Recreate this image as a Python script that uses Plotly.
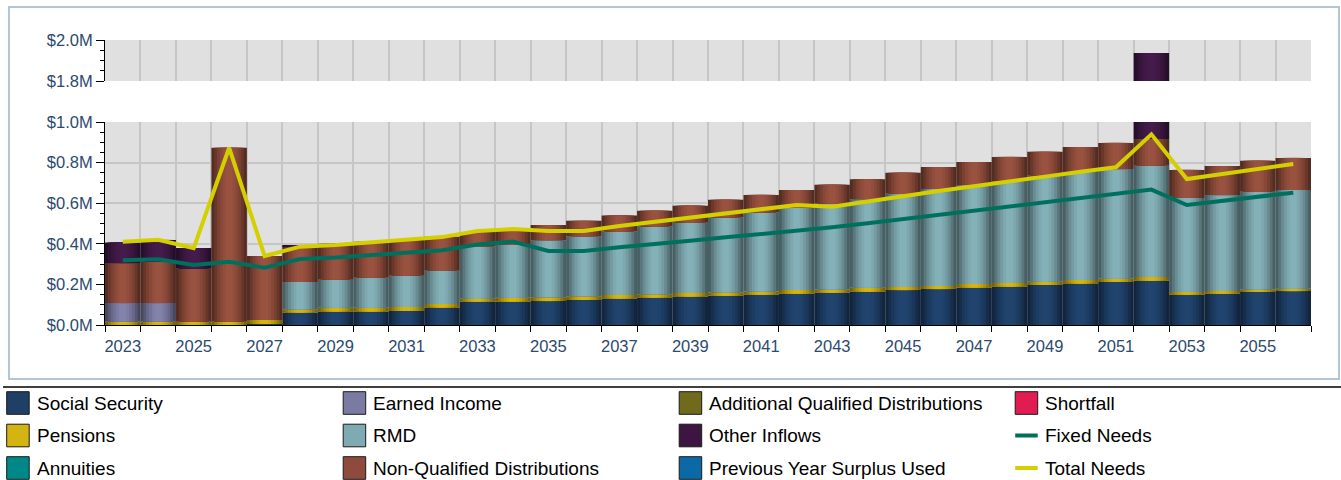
import numpy as np
import plotly.graph_objects as go

# ---------------- data (values in $ millions) ----------------
years = list(range(2023, 2057))

social_security = [0, 0, 0, 0, 0.005, 0.061, 0.066, 0.066, 0.069, 0.086, 0.115, 0.115, 0.118, 0.123,
                   0.130, 0.135, 0.140, 0.144, 0.149, 0.154, 0.159, 0.164, 0.172, 0.177, 0.184, 0.189,
                   0.197, 0.204, 0.212, 0.218, 0.149, 0.154, 0.163, 0.167]
pensions = [0.016, 0.016, 0.016, 0.016, 0.020, 0.016, 0.019, 0.019, 0.020, 0.018, 0.014, 0.019, 0.019,
            0.019, 0.018, 0.016, 0.018, 0.016, 0.016, 0.018, 0.016, 0.019, 0.015, 0.015, 0.018, 0.018,
            0.016, 0.018, 0.016, 0.018, 0.014, 0.013, 0.012, 0.012]
annuities = [0] * 34
earned_income = [0.092, 0.092] + [0] * 32
rmd = [0, 0, 0, 0, 0, 0.135, 0.138, 0.148, 0.154, 0.163, 0.258, 0.262, 0.281, 0.295, 0.312, 0.334,
       0.346, 0.370, 0.389, 0.406, 0.423, 0.437, 0.459, 0.478, 0.488, 0.502, 0.522, 0.532, 0.540,
       0.549, 0.463, 0.473, 0.481, 0.486]
non_qualified = [0.197, 0.204, 0.261, 0.857, 0.315, 0.177, 0.177, 0.177, 0.177, 0.168, 0.071, 0.079,
                 0.074, 0.076, 0.079, 0.078, 0.084, 0.087, 0.087, 0.087, 0.093, 0.098, 0.104, 0.108,
                 0.113, 0.119, 0.118, 0.123, 0.129, 0.131, 0.138, 0.143, 0.153, 0.158]
additional_qualified = [0] * 34
other_inflows = [0.102, 0.107, 0.102, 0, 0, 0.004] + [0] * 23 + [1.021] + [0] * 4
previous_surplus = [0] * 34
shortfall = [0] * 34

fixed_needs = [0.319, 0.324, 0.296, 0.312, 0.282, 0.325, 0.332, 0.343, 0.355, 0.368, 0.397, 0.411,
               0.365, 0.365, 0.383, 0.397, 0.415, 0.432, 0.448, 0.465, 0.481, 0.501, 0.522, 0.543,
               0.565, 0.584, 0.606, 0.626, 0.647, 0.667, 0.591, 0.612, 0.632, 0.652]
total_needs = [0.410, 0.420, 0.379, 0.873, 0.340, 0.386, 0.394, 0.407, 0.419, 0.433, 0.463, 0.473,
               0.463, 0.463, 0.488, 0.509, 0.529, 0.550, 0.571, 0.591, 0.583, 0.611, 0.634, 0.660,
               0.685, 0.706, 0.731, 0.755, 0.777, 0.939, 0.719, 0.744, 0.768, 0.793]

# stacking order (bottom -> top): name, values, bar colour, legend colour
stack = [
    ("Social Security", social_security, "#21446f", "#1f3f66"),
    ("Pensions", pensions, "#d6b40e", "#d4b412"),
    ("Annuities", annuities, "#008a8a", "#008787"),
    ("Earned Income", earned_income, "#8282ab", "#7a7aa3"),
    ("RMD", rmd, "#84b0b7", "#7faab2"),
    ("Non-Qualified Distributions", non_qualified, "#99523f", "#8e4a3c"),
    ("Additional Qualified Distributions", additional_qualified, "#716c1d", "#6f6a1c"),
    ("Other Inflows", other_inflows, "#451b4b", "#3c1640"),
    ("Previous Year Surplus Used", previous_surplus, "#0b6aa6", "#0b6aa6"),
    ("Shortfall", shortfall, "#e01c52", "#e01c52"),
]


def shade(hexcol, f):
    h = hexcol.lstrip("#")
    r, g, b = (int(h[i:i + 2], 16) for i in (0, 2, 4))
    return "rgb(%d,%d,%d)" % (r * f, g * f, b * f)


layer_widths = [1.0, 0.84, 0.68, 0.52, 0.36, 0.2]
layer_factors = [0.55, 0.68, 0.8, 0.89, 0.96, 1.0]

fig = go.Figure()
base = np.zeros(len(years))
for name, vals, col, _ in stack:
    v = np.array(vals, dtype=float)
    for w, f in zip(layer_widths, layer_factors):
        for ya in ("y", "y2"):
            fig.add_trace(go.Bar(
                x=years, y=v, base=base, width=w, xaxis="x", yaxis=ya,
                marker=dict(color=shade(col, f), line=dict(width=0)),
                name=name, showlegend=False, hoverinfo="skip"))
    base = base + v

fig.add_trace(go.Scatter(x=years, y=fixed_needs, mode="lines", name="Fixed Needs",
                         line=dict(color="#00705e", width=4), showlegend=False))
fig.add_trace(go.Scatter(x=years, y=total_needs, mode="lines", name="Total Needs",
                         line=dict(color="#d4d000", width=4), showlegend=False))

W, H = 1341, 480
FONT = "Liberation Sans, Arial, sans-serif"
TICKCOL = "#2c4a6e"
GRID = "#c6c6c6"


def px(xp):
    return min(max(xp / W, 0), 1)


def py(yp):
    return min(max(1 - yp / H, 0), 1)


xdom = [px(105), px(1311)]
fig.update_layout(
    template="none",
    width=W, height=H, autosize=False,
    margin=dict(l=0, r=0, t=0, b=0, pad=0, autoexpand=False),
    paper_bgcolor="white", plot_bgcolor="#e0e0e0",
    barmode="overlay", showlegend=False,
    font=dict(family=FONT),
    xaxis=dict(domain=xdom, anchor="y", range=[2022.5, 2056.5], tick0=2023, dtick=2,
               ticks="outside", ticklen=6, tickcolor="rgba(0,0,0,0)", showgrid=False,
               automargin=False, zeroline=False, showline=True, linecolor="black", linewidth=1,
               tickfont=dict(size=16.5, color=TICKCOL, family=FONT),
               minor=dict(tick0=2022.5, dtick=1, ticks="outside", ticklen=6, tickcolor="black",
                          showgrid=True, gridcolor=GRID, gridwidth=2)),
    yaxis=dict(domain=[py(325), py(122)], anchor="x", range=[0, 1.0], tick0=0, dtick=0.2,
               tickformat="$.1f", ticksuffix="M", ticks="outside", ticklen=8, tickcolor="black",
               automargin=False, showgrid=True, gridcolor=GRID, gridwidth=1.5, zeroline=False,
               showline=True, linecolor="black", linewidth=1,
               tickfont=dict(size=16.5, color=TICKCOL, family=FONT),
               minor=dict(dtick=0.05, ticks="outside", ticklen=4, tickcolor="black", showgrid=False)),
    yaxis2=dict(domain=[py(81), py(40)], anchor="x", range=[1.8, 2.0], tick0=1.8, dtick=0.2,
                tickformat="$.1f", ticksuffix="M", ticks="outside", ticklen=8, tickcolor="black",
                automargin=False, showgrid=True, gridcolor=GRID, gridwidth=1.5, zeroline=False,
                showline=True, linecolor="black", linewidth=1,
                tickfont=dict(size=16.5, color=TICKCOL, family=FONT),
                minor=dict(tick0=1.8, dtick=0.05, ticks="outside", ticklen=4, tickcolor="black",
                           showgrid=False)),
)

shapes = [
    dict(type="rect", xref="paper", yref="paper", x0=px(9), x1=px(1339), y0=py(379), y1=py(7),
         line=dict(color="#b3c6d6", width=2), fillcolor="rgba(0,0,0,0)", layer="below"),
    dict(type="line", xref="paper", yref="paper", x0=px(3), x1=1, y0=py(387), y1=py(387),
         line=dict(color="black", width=1.5)),
]
annotations = []

legend_grid = [
    [("Social Security", "box"), ("Earned Income", "box"),
     ("Additional Qualified Distributions", "box"), ("Shortfall", "box")],
    [("Pensions", "box"), ("RMD", "box"), ("Other Inflows", "box"), ("Fixed Needs", "line")],
    [("Annuities", "box"), ("Non-Qualified Distributions", "box"),
     ("Previous Year Surplus Used", "box"), ("Total Needs", "line")],
]
legend_colors = {name: lc for name, _, _, lc in stack}
legend_colors["Fixed Needs"] = "#00705e"
legend_colors["Total Needs"] = "#d4d000"

row_tops = [391.7, 424.2, 456.7]
col_x = [6.7, 343.2, 679.2, 1015.2]
for r, row in enumerate(legend_grid):
    for c, (label, kind) in enumerate(row):
        x0 = col_x[c]
        yt = row_tops[r]
        yc = yt + 11.3
        colr = legend_colors[label]
        if kind == "box":
            shapes.append(dict(type="rect", xref="paper", yref="paper",
                               x0=px(x0), x1=px(x0 + 22.5), y0=py(yt + 22.6), y1=py(yt),
                               fillcolor=colr, line=dict(color="#1a1a1a", width=1)))
        else:
            shapes.append(dict(type="line", xref="paper", yref="paper",
                               x0=px(x0), x1=px(x0 + 22.5), y0=py(yc), y1=py(yc),
                               line=dict(color=colr, width=4)))
        annotations.append(dict(xref="paper", yref="paper", x=px(x0 + 28), y=py(yc),
                                xanchor="left", yanchor="middle", text=label, showarrow=False,
                                font=dict(size=19, color="black", family=FONT)))

fig.update_layout(shapes=shapes, annotations=annotations)

fig.write_html("out.html", config={"displayModeBar": False},
               post_script="document.body.style.margin='0';document.body.style.overflow='hidden';")
